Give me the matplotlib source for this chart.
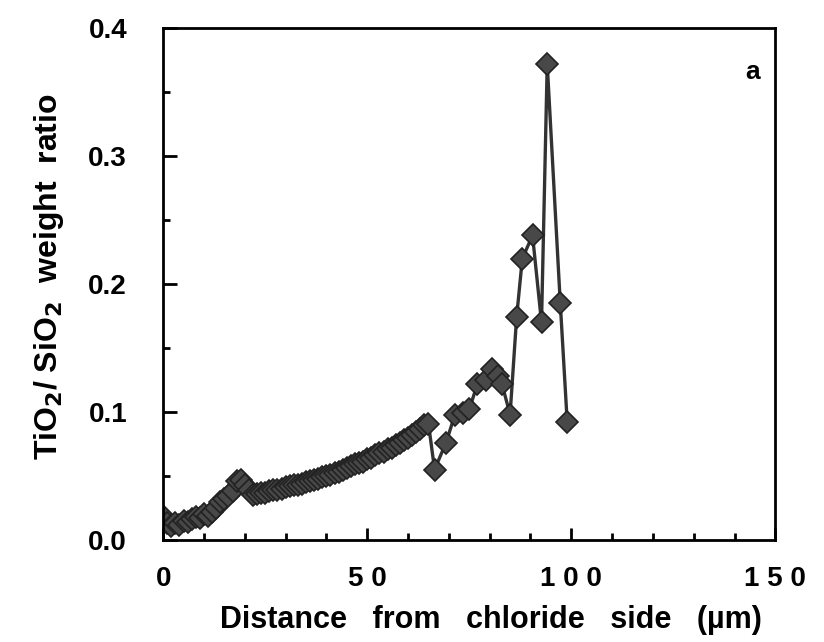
import matplotlib.pyplot as plt
import numpy as np
from matplotlib.ticker import MultipleLocator

# distance from chloride side (um) and TiO2/SiO2 weight ratio
dist = [0, 1, 2, 3, 4, 5, 6, 7, 8, 9, 10, 11, 12, 13, 14, 15, 16, 17, 18, 19,
        20, 21, 22, 23, 24, 25, 26, 27, 28, 29, 30, 31, 32, 33, 34, 35, 36, 37,
        38, 39, 40, 41, 42, 43, 44, 45, 46, 47, 48, 49, 50, 51, 52, 53, 54, 55,
        56, 57, 58, 59, 60, 61, 62, 63, 64, 65,
        66.5, 69.3, 71.5, 73.5, 75, 77, 79, 80.5, 82, 83, 85, 86.6, 88, 90.5,
        92.7, 94.1, 97.3, 99]
ratio = [0.019, 0.013, 0.011, 0.013, 0.012, 0.015, 0.014, 0.016, 0.018, 0.017,
         0.020, 0.019, 0.022, 0.025, 0.030, 0.032, 0.034, 0.038, 0.046, 0.047,
         0.043, 0.039, 0.035, 0.036, 0.037, 0.037, 0.038, 0.039, 0.039, 0.040,
         0.041, 0.042, 0.043, 0.043, 0.044, 0.045, 0.046, 0.047, 0.048, 0.049,
         0.050, 0.051, 0.052, 0.053, 0.055, 0.056, 0.058, 0.059, 0.060, 0.061,
         0.063, 0.064, 0.066, 0.068, 0.069, 0.071, 0.072, 0.074, 0.076, 0.078,
         0.080, 0.082, 0.084, 0.087, 0.090, 0.091,
         0.055, 0.076, 0.098, 0.099, 0.102, 0.122, 0.125, 0.134, 0.128, 0.122,
         0.098, 0.174, 0.220, 0.238, 0.170, 0.372, 0.185, 0.092]

xticks = [0, 50, 100, 150]
xticklabels = ['0', '5 0', '1 0 0', '1 5 0']
yticks = [0.0, 0.1, 0.2, 0.3, 0.4]

plt.rcParams['font.family'] = ['Liberation Sans', 'DejaVu Sans']
plt.rcParams['font.weight'] = 'bold'

fig = plt.figure(figsize=(8.24, 6.42), dpi=100)
ax = fig.add_axes([0.198, 0.159, 0.743, 0.797])

ax.plot(dist, ratio, color='#333333', lw=2.4, marker='D', ms=11,
        mec='#222222', mew=1.2, mfc='#484848')

ax.set_xlim(0, 150)
ax.set_ylim(0, 0.4)
ax.set_xticks(xticks)
ax.set_xticklabels(xticklabels)
ax.set_yticks(yticks)
ax.set_yticklabels(['%.1f' % v for v in yticks])
ax.xaxis.set_minor_locator(MultipleLocator(10))
ax.yaxis.set_minor_locator(MultipleLocator(0.05))

ax.tick_params(which='both', direction='in', top=False, right=False,
               width=2, labelsize=20)
ax.tick_params(axis='x', which='major', length=9, pad=19)
ax.tick_params(axis='x', which='minor', length=5)
ax.tick_params(axis='y', which='major', length=10, pad=26)
ax.tick_params(axis='y', which='minor', length=5)
for s in ax.spines.values():
    s.set_linewidth(2)

ax.set_xlabel('Distance   from   chloride   side   (\u00b5m)', fontsize=22,
              fontweight='bold', labelpad=9)
ax.xaxis.label.set_x(0.536)
ax.set_ylabel('TiO$_\\mathbf{2}$/ SiO$_\\mathbf{2}$  weight  ratio', fontsize=23,
              fontweight='bold', labelpad=16)
ax.yaxis.label.set_y(0.515)
ax.text(0.963, 0.9, 'a', transform=ax.transAxes, fontsize=19, ha='center')

fig.savefig('out.png', dpi=100)
